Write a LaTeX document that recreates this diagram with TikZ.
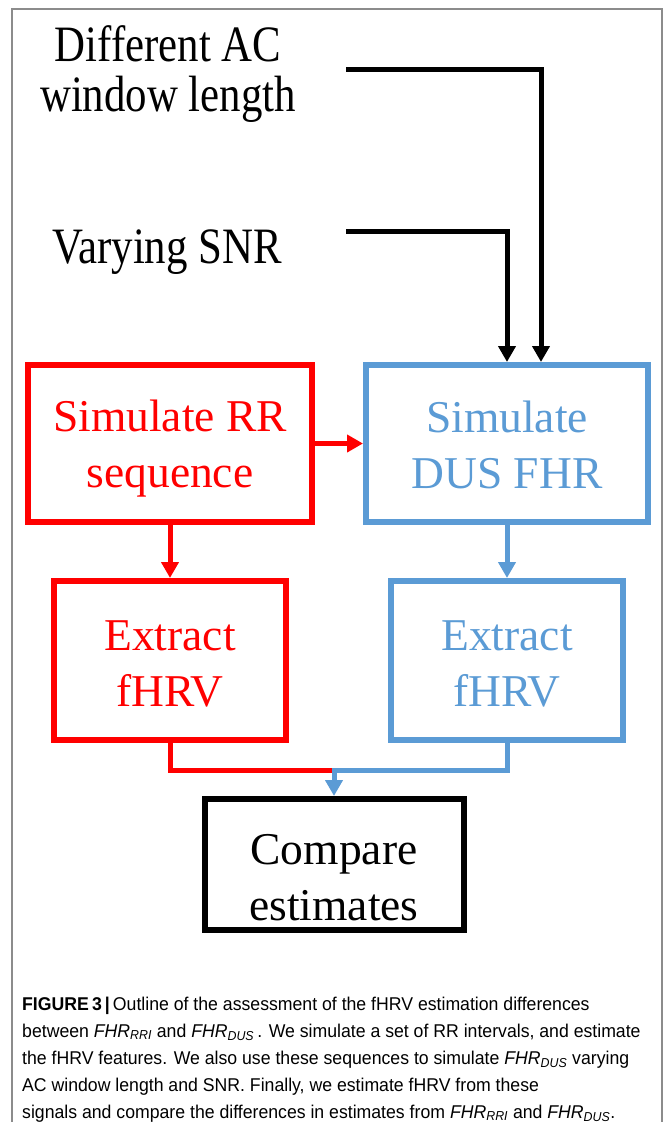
\documentclass[tikz,border=0pt]{standalone}
\usepackage{fontspec}
\setmainfont{Liberation Serif}
\newfontfamily\labelfont[FakeStretch=0.84]{Liberation Serif}
\newfontfamily\capfont[FakeStretch=0.955]{Liberation Sans}
\usetikzlibrary{arrows.meta}
\definecolor{fred}{RGB}{255,0,0}
\definecolor{fblue}{RGB}{91,155,213}
\definecolor{framegray}{RGB}{140,140,140}
\newcommand{\fhr}[1]{\textit{FHR}\textsubscript{\textit{#1}}}
\begin{document}
\begin{tikzpicture}[x=1pt,y=-1pt,
  box/.style={draw, line width=6pt, inner sep=0pt},
  toplabel/.style={font=\labelfont\fontsize{51}{50}\selectfont, align=center, inner sep=0pt},
  boxtext/.style={font=\fontsize{45.5}{56}\selectfont, align=center, inner sep=0pt},
  conn/.style={line width=5pt},
  tip/.style={-{Triangle[length=16pt,width=17pt]}}]
\useasboundingbox (0,0) rectangle (663,1122);
\fill[white] (0,0) rectangle (663,1122);
\draw[framegray, line width=1.5pt] (12,1122) -- (12,9) -- (662,9) -- (662,1122);

% input labels (base anchor = baseline of last line)
\node[toplabel, anchor=base] (lab1) at (168,111) {Different AC\\window length};
\node[toplabel, anchor=base] (lab2) at (167,263) {Varying SNR};
\coordinate (s1) at (346,69);
\coordinate (s2) at (346,231);

% boxes
\node[box, draw=fred,  minimum width=284pt, minimum height=157pt] (simR) at (170,443.5) {};
\node[box, draw=fblue, minimum width=282pt, minimum height=157pt] (simB) at (507,443.5) {};
\node[box, draw=fred,  minimum width=232pt, minimum height=159pt] (extR) at (170,660.5) {};
\node[box, draw=fblue, minimum width=232pt, minimum height=159pt] (extB) at (507,660.5) {};
\node[box, draw=black, minimum width=259pt, minimum height=131pt] (cmp) at (334,864.5) {};

\node[boxtext, text=fred,  anchor=base] (simRt) at (170,487) {Simulate RR\\sequence};
\node[boxtext, text=fblue, anchor=base] (simBt) at (507,488) {Simulate\\DUS FHR};
\node[boxtext, text=fred,  anchor=base] (extRt) at (170,706) {Extract\\fHRV};
\node[boxtext, text=fblue, anchor=base] (extBt) at (507,706) {Extract\\fHRV};
\node[boxtext, text=black, anchor=base] (cmpt) at (334,920) {Compare\\estimates};

% connectors
\draw[conn, tip] (s1) -| ([xshift=34pt]simB.north);
\draw[conn, tip] (s2) -| (simB.north);
\draw[conn, fred, tip] (simR.east) -- (simB.west);
\draw[conn, fred, tip] (simR.south) -- (extR.north);
\draw[conn, fblue, tip] (simB.south) -- (extB.north);
\coordinate (j) at (334,770);
\draw[conn, fred] (extR.south) |- (j);
\draw[conn, fblue, tip] (extB.south) |- (j) -- (cmp.north);

% caption
\node[anchor=base west, align=left, inner sep=0pt, font=\capfont\fontsize{18.5}{27}\selectfont] (cap) at (22,1118)
{\textbf{FIGURE\,3\,|}\,Outline of the assessment of the fHRV estimation differences\\
between \fhr{RRI} and \fhr{DUS}\,. We simulate a set of RR intervals, and estimate\\
the fHRV features. We also use these sequences to simulate \fhr{DUS} varying\\
AC window length and SNR. Finally, we estimate fHRV from these\\
signals and compare the differences in estimates from \fhr{RRI} and \fhr{DUS}.};
\end{tikzpicture}
\end{document}
